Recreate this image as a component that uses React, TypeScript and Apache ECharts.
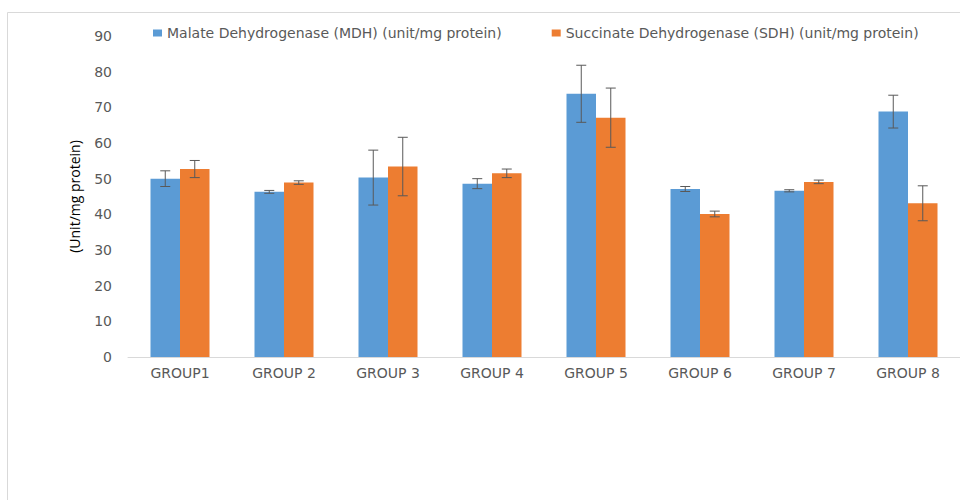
import React, { useEffect, useRef } from "react";
import * as echarts from "echarts";

const categories = ["GROUP1", "GROUP 2", "GROUP 3", "GROUP 4", "GROUP 5", "GROUP 6", "GROUP 7", "GROUP 8"];
const mdhName = "Malate Dehydrogenase (MDH) (unit/mg protein)";
const sdhName = "Succinate Dehydrogenase (SDH) (unit/mg protein)";
const mdhValues = [50.0, 46.3, 50.3, 48.6, 73.8, 47.1, 46.6, 68.8];
const mdhErrors = [2.2, 0.4, 7.7, 1.4, 8.0, 0.7, 0.3, 4.6];
const sdhValues = [52.7, 48.9, 53.4, 51.5, 67.1, 40.1, 49.1, 43.1];
const sdhErrors = [2.4, 0.5, 8.2, 1.2, 8.3, 0.8, 0.5, 4.9];
const yTitle = "(Unit/mg protein)";

const BAR_W = 29.5;
const FONT = "'DejaVu Sans', 'Open Sans', sans-serif";
const TITLE_FONT = "'Open Sans', 'Liberation Sans', sans-serif";

function errorSeries(values: number[], errors: number[], offset: number) {
  return {
    type: "custom",
    silent: true,
    z: 10,
    encode: { x: 0, y: [1, 2] },
    data: values.map((v, i) => [i, v - errors[i], v + errors[i]]),
    renderItem: (params: any, api: any) => {
      const lo = api.coord([api.value(0), api.value(1)]);
      const hi = api.coord([api.value(0), api.value(2)]);
      const x = lo[0] + offset;
      const cap = 5;
      const style = { stroke: "#595959", lineWidth: 1 };
      return {
        type: "group",
        children: [
          { type: "line", shape: { x1: x, y1: lo[1], x2: x, y2: hi[1] }, style },
          { type: "line", shape: { x1: x - cap, y1: hi[1], x2: x + cap, y2: hi[1] }, style },
          { type: "line", shape: { x1: x - cap, y1: lo[1], x2: x + cap, y2: lo[1] }, style },
        ],
      };
    },
  };
}

export default function App() {
  const ref = useRef<HTMLDivElement>(null);
  useEffect(() => {
    if (!ref.current) return;
    const chart = echarts.init(ref.current, null, { renderer: "svg" });
    chart.setOption({
      animation: false,
      backgroundColor: "#ffffff",
      textStyle: { fontFamily: FONT },
      graphic: [
        {
          type: "rect",
          shape: { x: 7.5, y: 12.5, width: 1000, height: 600 },
          style: { fill: "none", stroke: "#d9d9d9", lineWidth: 1 },
          silent: true,
        },
      ],
      legend: {
        left: 153,
        top: 26,
        padding: 0,
        itemWidth: 9,
        itemHeight: 7,
        itemGap: 50,
        icon: "rect",
        textStyle: { fontFamily: FONT, fontSize: 14, color: "#595959" },
        data: [mdhName, sdhName],
      },
      grid: { left: 128, top: 36, width: 837, height: 321, containLabel: false },
      xAxis: {
        type: "category",
        data: categories,
        axisLine: { show: true, lineStyle: { color: "#d9d9d9", width: 1 } },
        axisTick: { show: false },
        axisLabel: { fontFamily: FONT, fontSize: 14, color: "#595959", margin: 9 },
      },
      yAxis: {
        type: "value",
        min: 0,
        max: 90,
        interval: 10,
        name: yTitle,
        nameLocation: "middle",
        nameGap: 47,
        nameTextStyle: { fontFamily: TITLE_FONT, fontSize: 14, color: "#000000" },
        axisLine: { show: false },
        axisTick: { show: false },
        splitLine: { show: false },
        axisLabel: { fontFamily: FONT, fontSize: 14, color: "#595959", margin: 16 },
      },
      series: [
        {
          name: mdhName,
          type: "bar",
          data: mdhValues,
          barWidth: BAR_W,
          barGap: "0%",
          itemStyle: { color: "#5B9BD5" },
        },
        {
          name: sdhName,
          type: "bar",
          data: sdhValues,
          barWidth: BAR_W,
          barGap: "0%",
          itemStyle: { color: "#ED7D31" },
        },
        errorSeries(mdhValues, mdhErrors, -BAR_W / 2),
        errorSeries(sdhValues, sdhErrors, BAR_W / 2),
      ],
    });
    return () => chart.dispose();
  }, []);
  return (
    <div
      ref={ref}
      style={{ position: "absolute", left: 0, top: 0, width: 960, height: 500 }}
    />
  );
}
